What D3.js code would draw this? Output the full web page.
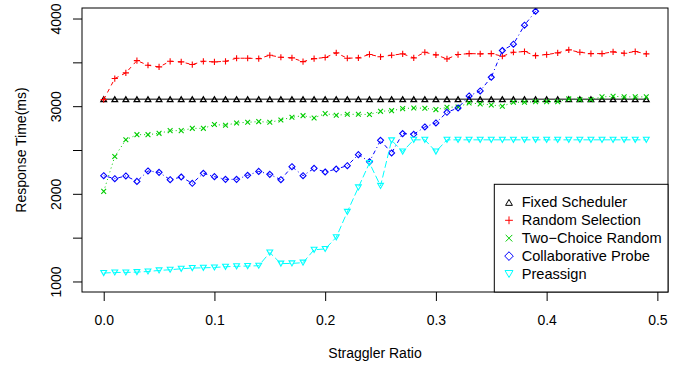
<!DOCTYPE html>
<html>
<head>
<meta charset="utf-8">
<script src="https://cdn.jsdelivr.net/npm/d3@7"></script>
<style>
  body { margin: 0; background: #fff; }
  text { font-family: "Liberation Sans", Arial, sans-serif; font-size: 14px; fill: #000; }
  .legend text { font-size: 14.6px; }
</style>
</head>
<body>
<div id="chart"></div>
<script>
// straggler ratio (x axis)
const ratio = [0.00, 0.01, 0.02, 0.03, 0.04, 0.05, 0.06, 0.07, 0.08, 0.09,
  0.10, 0.11, 0.12, 0.13, 0.14, 0.15, 0.16, 0.17, 0.18, 0.19,
  0.20, 0.21, 0.22, 0.23, 0.24, 0.25, 0.26, 0.27, 0.28, 0.29,
  0.30, 0.31, 0.32, 0.33, 0.34, 0.35, 0.36, 0.37, 0.38, 0.39,
  0.40, 0.41, 0.42, 0.43, 0.44, 0.45, 0.46, 0.47, 0.48, 0.49];

// response times (ms)
const fixedScheduler = [3080, 3080, 3080, 3080, 3080, 3080, 3080, 3080, 3080, 3080,
  3080, 3080, 3080, 3080, 3080, 3080, 3080, 3080, 3080, 3080,
  3080, 3080, 3080, 3080, 3080, 3080, 3080, 3080, 3080, 3080,
  3080, 3080, 3080, 3080, 3080, 3080, 3080, 3080, 3080, 3080,
  3080, 3080, 3080, 3080, 3080, 3080, 3080, 3080, 3080, 3080];
const randomSelection = [3075, 3315, 3380, 3520, 3467, 3448, 3512, 3505, 3475, 3512,
  3505, 3512, 3547, 3547, 3543, 3581, 3558, 3551, 3508, 3543,
  3555, 3608, 3547, 3551, 3590, 3563, 3581, 3597, 3551, 3615,
  3585, 3540, 3589, 3600, 3597, 3600, 3570, 3615, 3623, 3577,
  3589, 3608, 3642, 3615, 3600, 3600, 3619, 3604, 3623, 3597];
const twoChoice = [2028, 2426, 2616, 2675, 2675, 2690, 2721, 2721, 2747, 2747,
  2790, 2782, 2809, 2816, 2824, 2816, 2843, 2873, 2892, 2866,
  2915, 2896, 2907, 2907, 2905, 2941, 2949, 2972, 2980, 2976,
  2961, 2987, 2991, 3037, 3026, 3014, 2999, 3045, 3045, 3052,
  3052, 3052, 3083, 3075, 3075, 3106, 3113, 3106, 3106, 3106];
const collaborative = [2207, 2173, 2204, 2142, 2261, 2245, 2161, 2192, 2120, 2234,
  2196, 2165, 2165, 2211, 2256, 2222, 2161, 2310, 2207, 2291,
  2249, 2283, 2321, 2447, 2366, 2610, 2466, 2687, 2679, 2763,
  2809, 2930, 2980, 3117, 3174, 3330, 3635, 3707, 3924, 4083,
  4290, 4470, 4690, 4880, 5060, 5270, 5430, 5650, 5840, 6010];
const preassign = [1096, 1103, 1103, 1107, 1114, 1126, 1134, 1145, 1153, 1156,
  1160, 1168, 1173, 1176, 1180, 1330, 1204, 1206, 1215, 1362,
  1371, 1504, 1794, 2073, 2352, 2090, 2610, 2482, 2616, 2616,
  2482, 2616, 2616, 2616, 2616, 2616, 2616, 2616, 2616, 2616,
  2616, 2616, 2616, 2616, 2616, 2616, 2616, 2616, 2616, 2616];

const names = ["Fixed Scheduler", "Random Selection", "Two\u2212Choice Random", "Collaborative Probe", "Preassign"];
const values = [fixedScheduler, randomSelection, twoChoice, collaborative, preassign];
const colors = ["#000000", "#FF0000", "#00CD00", "#0000FF", "#00FFFF"];
const dashes = [null, "4 4", "1 3", "1 3 4 3", "7 3"];
const shapes = ["tri", "plus", "cross", "diamond", "invtri"];

const xTicks = [0, 0.1, 0.2, 0.3, 0.4, 0.5];
const yTicks = [1000, 1500, 2000, 2500, 3000, 3500, 4000];
const yLabelled = [1000, 2000, 3000, 4000];

const width = 691;
const height = 368;
const box = { left: 82, right: 668, top: 8, bottom: 292 };

const svg = d3.select("#chart").append("svg")
  .attr("width", width)
  .attr("height", height);

// R style ranges: data range padded by 4 %
const x = d3.scaleLinear().domain([-0.0196, 0.5096]).range([box.left, box.right]);
const y = d3.scaleLinear().domain([880, 4120]).range([box.bottom, box.top]);

// symbol paths, s = size
function symbol(type, s) {
  const h = s * 0.87;
  if (type === "tri") return `M0,${-h / 2}L${s / 2},${h / 2}L${-s / 2},${h / 2}Z`;
  if (type === "invtri") return `M${-s / 2},${-h / 2}L${s / 2},${-h / 2}L0,${h / 2}Z`;
  if (type === "plus") return `M${-s / 2},0H${s / 2}M0,${-s / 2}V${s / 2}`;
  if (type === "cross") return `M${-s / 2},${-s / 2}L${s / 2},${s / 2}M${-s / 2},${s / 2}L${s / 2},${-s / 2}`;
  return `M0,${-s / 2}L${s / 2},0L0,${s / 2}L${-s / 2},0Z`;
}
const plotSize = { tri: 5.6, invtri: 5.8, plus: 6.2, cross: 4.8, diamond: 6 };
const legendSize = { tri: 6.8, invtri: 8, plus: 7.8, cross: 6.6, diamond: 8.6 };

svg.append("clipPath").attr("id", "clip")
  .append("rect")
  .attr("x", box.left).attr("y", box.top)
  .attr("width", box.right - box.left).attr("height", box.bottom - box.top);

const line = d3.line()
  .x((d, i) => x(ratio[i]))
  .y((d) => y(d));

const plot = svg.append("g").attr("clip-path", "url(#clip)");

values.forEach((vals, k) => {
  const g = plot.append("g");
  g.append("path")
    .attr("d", line(vals))
    .attr("fill", "none")
    .attr("stroke", colors[k])
    .attr("stroke-width", 1)
    .attr("stroke-dasharray", dashes[k]);
  g.selectAll("path.pt")
    .data(vals)
    .enter()
    .append("path")
    .attr("class", "pt")
    .attr("transform", (d, i) => `translate(${x(ratio[i])},${y(d)})`)
    .attr("d", symbol(shapes[k], plotSize[shapes[k]]))
    .attr("fill", "none")
    .attr("stroke", colors[k])
    .attr("stroke-width", k === 0 ? 1.3 : 1.1);
});

// box
svg.append("rect")
  .attr("x", box.left).attr("y", box.top)
  .attr("width", box.right - box.left).attr("height", box.bottom - box.top)
  .attr("fill", "none").attr("stroke", "#000");

// x axis
svg.append("g")
  .attr("transform", `translate(0,${box.bottom})`)
  .call(d3.axisBottom(x).tickValues(xTicks).tickSize(9).tickFormat(d3.format(".1f")))
  .call((g) => g.select(".domain").remove())
  .call((g) => g.selectAll("text").attr("y", 33).attr("dy", 0));

// y axis, labels parallel to the axis
svg.append("g")
  .attr("transform", `translate(${box.left},0)`)
  .call(d3.axisLeft(y).tickValues(yTicks).tickSize(9)
    .tickFormat((d) => (yLabelled.includes(d) ? d : "")))
  .call((g) => g.select(".domain").remove())
  .call((g) => g.selectAll("text")
    .attr("x", 0).attr("y", 0).attr("dy", 0)
    .attr("text-anchor", "middle")
    .attr("transform", "translate(-21.5,0) rotate(-90)"));

svg.selectAll(".tick line").attr("stroke", "#000");
svg.selectAll("g.tick text").attr("font-family", null).attr("font-size", null);

// axis titles
svg.append("text")
  .attr("x", (box.left + box.right) / 2)
  .attr("y", 358)
  .attr("text-anchor", "middle")
  .text("Straggler Ratio");

svg.append("text")
  .attr("transform", `translate(25.5,${(box.top + box.bottom) / 2}) rotate(-90)`)
  .attr("text-anchor", "middle")
  .text("Response Time(ms)");

// legend, bottom right
const legend = svg.append("g").attr("class", "legend");
legend.append("rect")
  .attr("x", 494.3).attr("y", 184.3)
  .attr("width", box.right - 494.3).attr("height", box.bottom - 184.3)
  .attr("fill", "#fff").attr("stroke", "#000");

names.forEach((name, k) => {
  const cy = 202.4 + k * 17.9;
  legend.append("path")
    .attr("transform", `translate(509,${cy})`)
    .attr("d", symbol(shapes[k], legendSize[shapes[k]]))
    .attr("fill", "none")
    .attr("stroke", colors[k]);
  legend.append("text")
    .attr("x", 521.7)
    .attr("y", cy + 5)
    .text(name);
});
</script>
</body>
</html>
